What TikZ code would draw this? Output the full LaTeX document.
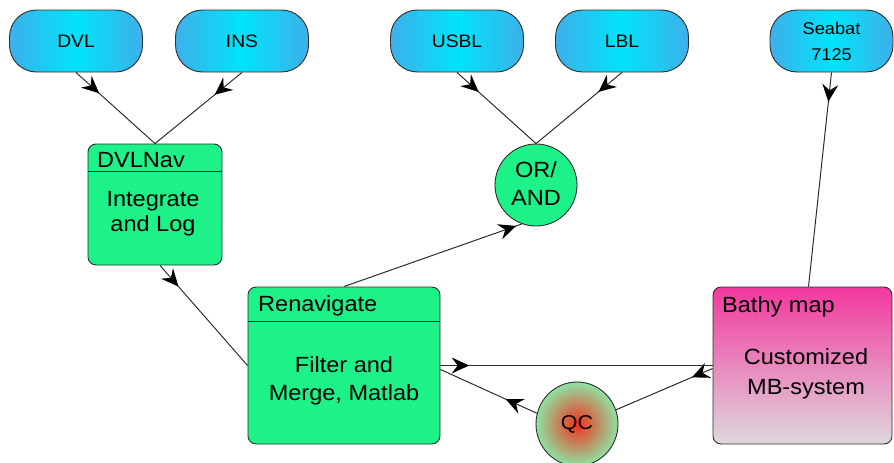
\documentclass[tikz,border=0pt]{standalone}
\usepackage{fontspec}
\setmainfont{Liberation Sans}[FakeStretch=1.07]
\usetikzlibrary{arrows.meta,decorations.markings,calc,shapes.geometric}
\definecolor{capmid}{RGB}{0,228,250}
\definecolor{capedge}{RGB}{62,176,234}
\definecolor{grn}{RGB}{28,242,135}
\definecolor{pinktop}{RGB}{242,56,158}
\definecolor{graybot}{RGB}{222,216,220}
\definecolor{qcred}{RGB}{244,48,28}
\definecolor{qcgreen}{RGB}{142,226,162}
\definecolor{edge}{RGB}{45,45,45}
\tikzset{
  capsule/.style={draw=edge, line width=0.9pt, rounded corners=27pt, minimum width=133pt, minimum height=62pt,
    left color=capedge, right color=capedge, middle color=capmid, inner sep=0pt, align=center,
    font=\fontsize{18}{22}\selectfont},
  greenbox/.style={draw=edge, line width=0.9pt, rounded corners=8pt, fill=grn},
  conn/.style={draw=edge, line width=1pt},
  arrowat/.style={postaction={decorate, decoration={markings,
    mark=at position #1 with {\fill[black] (1.5pt,0pt) -- (-16pt,8pt) -- (-10pt,0pt) -- (-16pt,-8pt) -- cycle;}}}},
  txt/.style={inner sep=0pt, align=center, font=\fontsize{22}{27}\selectfont},
}
\begin{document}
\begin{tikzpicture}[x=1pt,y=-1pt]
\useasboundingbox (0,0) rectangle (894,463);
% sources
\node[capsule] (dvl) at (76,41) {DVL};
\node[capsule] (ins) at (242,41) {INS};
\node[capsule] (usbl) at (457,41) {USBL};
\node[capsule] (lbl) at (622,41) {LBL};
\node[capsule, minimum width=123pt, font=\fontsize{17}{26}\selectfont] (seabat) at (831.5,41) {Seabat\\7125};
% DVLNav
\node[greenbox, minimum width=134pt, minimum height=121pt] (dvlnav) at (155,204.5) {};
\coordinate (hA) at (0,171);
\draw[conn] (dvlnav.west |- hA) -- (dvlnav.east |- hA);
\node[txt, anchor=base west] (dvlnavh) at (97,167) {DVLNav};
\node[txt, font=\fontsize{22}{25}\selectfont] (dvlnavb) at (153,214) {Integrate\\and Log};
% OR/AND
\node[circle, draw=edge, line width=0.9pt, fill=grn, minimum size=82pt, inner sep=0pt] (orand) at (536,185) {};
\node[txt, font=\fontsize{22}{28}\selectfont] (orandt) at (536,184) {OR/\\AND};
% Renavigate
\node[greenbox, minimum width=192pt, minimum height=157pt] (ren) at (344,365.5) {};
\coordinate (hB) at (0,321);
\draw[conn] (ren.west |- hB) -- (ren.east |- hB);
\node[txt, anchor=base west] (renh) at (258,311) {Renavigate};
\node[txt, font=\fontsize{22}{28}\selectfont] (renb) at (344,381) {Filter and\\Merge, Matlab};
% Bathy map
\node[draw=edge, line width=0.9pt, rounded corners=8pt, top color=pinktop, bottom color=graybot,
  minimum width=179pt, minimum height=157pt] (bathy) at (802.5,365.5) {};
\node[txt, anchor=base west] (bathyh) at (722,312) {Bathy map};
\node[txt, font=\fontsize{22}{30}\selectfont] (bathyb) at (806,374) {Customized\\MB-system};
% QC
\node[ellipse, draw=edge, line width=0.9pt, inner color=qcred, outer color=qcgreen,
  minimum width=82pt, minimum height=84pt, inner sep=0pt] (qc) at (577,424) {};
\node[txt, font=\fontsize{20}{24}\selectfont] (qct) at (577,424) {QC};
% connectors
\draw[conn, arrowat=0.28] (dvl.south) -- (dvlnav.north);
\draw[conn, arrowat=0.3] (ins.south) -- (dvlnav.north);
\draw[conn, arrowat=0.26] (usbl.south) -- (orand.north);
\draw[conn, arrowat=0.26] (lbl.south) -- (orand.north);
\draw[conn, arrowat=0.13] (seabat.south) -- ($(bathy.north)+(6,0)$);
\draw[conn, arrowat=0.2] ($(dvlnav.south)+(5,0)$) -- (ren.west);
\draw[conn, arrowat=0.96] (ren.north) -- (orand.-110);
\draw[conn, arrowat=0.1] (ren.east) -- (bathy.west);
\draw[conn, arrowat=0.2] ($(bathy.west)+(0,3)$) -- (qc.20);
\draw[conn, arrowat=0.31] (qc.165) -- ($(ren.east)+(0,4)$);
\end{tikzpicture}
\end{document}
